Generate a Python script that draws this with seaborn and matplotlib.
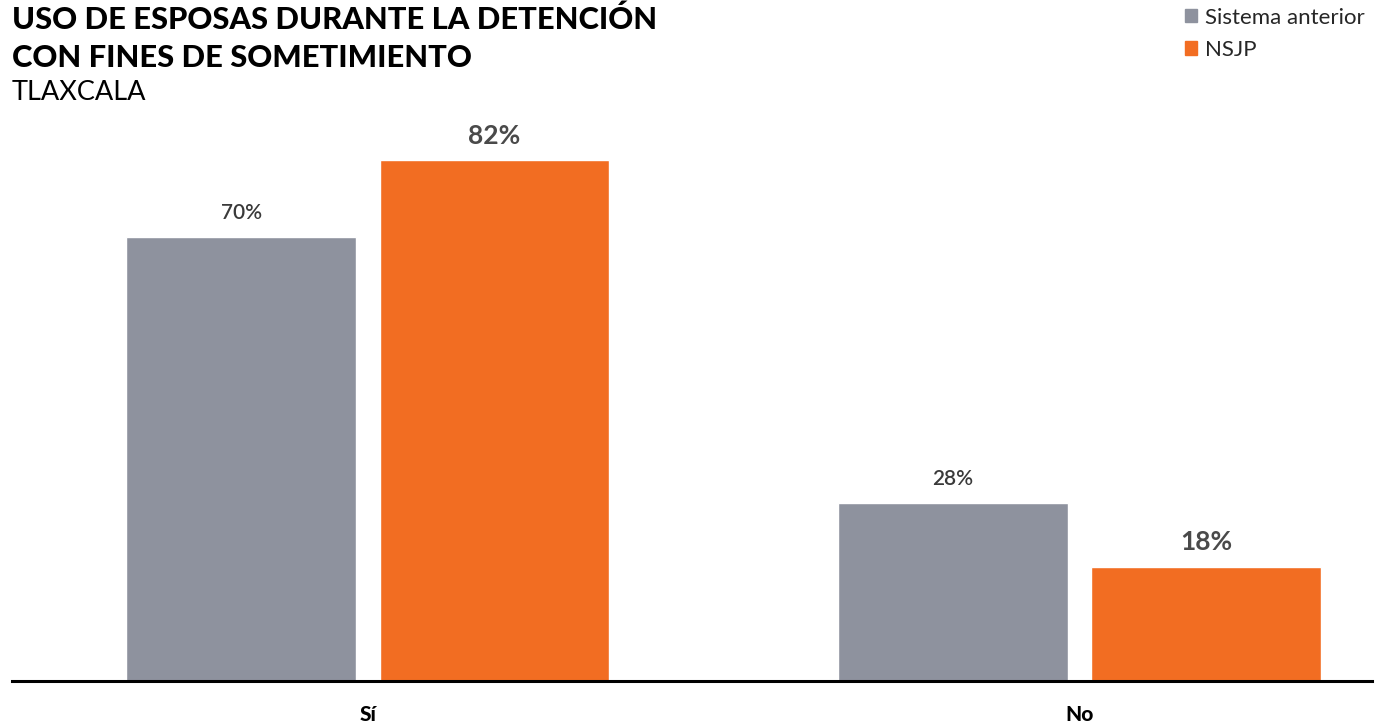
import pandas as pd
import matplotlib.pyplot as plt
import seaborn as sns
from matplotlib.patches import Patch

# data
respuestas = ["Sí", "No"]
sistema_anterior = [70, 28]
nsjp = [82, 18]
series = ["Sistema anterior", "NSJP"]
colores = ["#8e929e", "#f26d22"]

data = pd.DataFrame({
    "respuesta": respuestas * 2,
    "sistema": [series[0]] * 2 + [series[1]] * 2,
    "pct": sistema_anterior + nsjp,
})

sns.set_style("white")
plt.rcParams['font.family'] = ['Lato', 'DejaVu Sans']

fig = plt.figure(figsize=(13.83, 7.23), dpi=100)
ax = fig.add_axes([12 / 1383, 42 / 723, 1360 / 1383, 581 / 723])

sns.barplot(data=data, x="respuesta", y="pct", hue="sistema", order=respuestas,
            hue_order=series, palette=colores, width=0.712, gap=0.093,
            saturation=1, ax=ax, legend=False)

ax.set_xlim(-0.5, 1.411)
ax.set_ylim(0, 91.5)

# value labels
ax.bar_label(ax.containers[0], labels=[f"{v}%" for v in sistema_anterior],
             padding=10, fontsize=15, color="#3a3a3a", fontweight="semibold")
ax.bar_label(ax.containers[1], labels=[f"{v}%" for v in nsjp],
             padding=9, fontsize=19, color="#4a4a4a", fontweight="bold")

sns.despine(ax=ax, left=True)
ax.spines['bottom'].set_linewidth(2.2)
ax.spines['bottom'].set_color("black")
ax.set_yticks([])
ax.set_xlabel("")
ax.set_ylabel("")
ax.tick_params(axis="x", length=0, pad=17)
for lbl in ax.get_xticklabels():
    lbl.set_fontweight("black")
    lbl.set_fontsize(15)
    lbl.set_color("black")

# titles
fig.text(12 / 1383, 1 - 29 / 723, "USO DE ESPOSAS DURANTE LA DETENCIÓN",
         fontsize=22.2, fontweight="black", color="black", va="baseline")
fig.text(12 / 1383, 1 - 67 / 723, "CON FINES DE SOMETIMIENTO",
         fontsize=22.2, fontweight="black", color="black", va="baseline")
fig.text(12 / 1383, 1 - 100 / 723, "TLAXCALA",
         fontsize=19.5, color="black", va="baseline")

# legend
handles = [Patch(color=c, label=s) for c, s in zip(colores, series)]
fig.legend(handles=handles, loc="upper right", bbox_to_anchor=(1378 / 1383, 1.008),
           frameon=False, fontsize=16, handlelength=0.55, handleheight=0.55,
           handletextpad=0.35, labelspacing=0.55, borderaxespad=0.2)

fig.savefig("out.png", dpi=100)
